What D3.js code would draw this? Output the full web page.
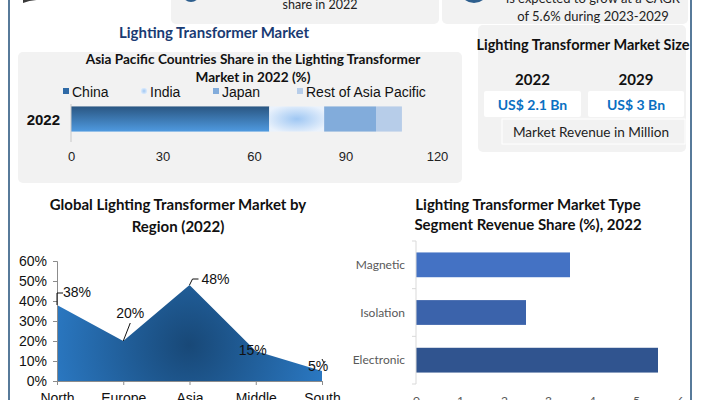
<!DOCTYPE html>
<html>
<head>
<meta charset="utf-8">
<script src="https://cdn.jsdelivr.net/npm/d3@7"></script>
<style>
  body { margin: 0; background: #fff; }
  svg { display: block; }
</style>
</head>
<body>
<div id="chart"></div>
<script>
// Asia Pacific stacked bar
const apCountries = ['China', 'India', 'Japan', 'Rest of Asia Pacific'];
const apShares = [65, 18, 17, 8.5];
const apYear = '2022';
const apTicks = [0, 30, 60, 90, 120];

// market size cards
const sizeYears = ['2022', '2029'];
const sizeValues = ['US$ 2.1 Bn', 'US$ 3 Bn'];

// region area chart
const regions = ['North America', 'Europe', 'Asia Pacific', 'Middle East and Africa', 'South America'];
const regionShares = [38, 20, 48, 15, 5];
const regionTicks = [0, 10, 20, 30, 40, 50, 60];

// type segment bars
const types = ['Magnetic', 'Isolation', 'Electronic'];
const typeShares = [3.5, 2.5, 5.5];
const typeTicks = [0, 1, 2, 3, 4, 5, 6];

const W = 701, H = 400;
const calibri = 'Lato, "Open Sans", sans-serif';
const arial = '"Liberation Sans", Arial, sans-serif';

const svg = d3.select('#chart').append('svg')
  .attr('width', W)
  .attr('height', H);

const defs = svg.append('defs');

let chinaGrad = defs.append('linearGradient')
  .attr('id', 'chinaGrad')
  .attr('x1', 0).attr('y1', 0).attr('x2', 0).attr('y2', 1);
chinaGrad.append('stop').attr('offset', '0%').attr('stop-color', '#2a5682');
chinaGrad.append('stop').attr('offset', '100%').attr('stop-color', '#4f9ae0');

let indiaGrad = defs.append('radialGradient')
  .attr('id', 'indiaGrad')
  .attr('cx', '50%').attr('cy', '50%').attr('r', '60%');
indiaGrad.append('stop').attr('offset', '0%').attr('stop-color', '#9fc7f3');
indiaGrad.append('stop').attr('offset', '100%').attr('stop-color', '#eaf2fc');

let areaGrad = defs.append('radialGradient')
  .attr('id', 'areaGrad')
  .attr('gradientUnits', 'userSpaceOnUse')
  .attr('cx', 189).attr('cy', 345).attr('r', 150);
areaGrad.append('stop').attr('offset', '0%').attr('stop-color', '#184877');
areaGrad.append('stop').attr('offset', '100%').attr('stop-color', '#2c7cc8');

// ---------- frame and header pieces ----------
svg.append('line')
  .attr('x1', 9).attr('x2', 9).attr('y1', 0).attr('y2', H)
  .attr('stroke', '#1f4e79').attr('stroke-width', 1.5);
svg.append('line')
  .attr('x1', 691).attr('x2', 691).attr('y1', 0).attr('y2', H)
  .attr('stroke', '#1f4e79').attr('stroke-width', 1.5);

// partial icon at top left
svg.append('path')
  .attr('d', 'M23,3 Q33,-1 47,0 L47,-6 L23,-6 Z')
  .attr('fill', '#3a3a3a');

svg.append('rect')
  .attr('x', 171).attr('y', -10).attr('width', 268).attr('height', 34)
  .attr('rx', 5).attr('fill', '#f2f2f2');
svg.append('rect')
  .attr('x', 442).attr('y', -10).attr('width', 246).attr('height', 34)
  .attr('rx', 5).attr('fill', '#f2f2f2');
svg.append('ellipse')
  .attr('cx', 191).attr('cy', -5).attr('rx', 8).attr('ry', 7)
  .attr('fill', '#2e5f8e');
svg.append('ellipse')
  .attr('cx', 474).attr('cy', -10).attr('rx', 14).attr('ry', 13)
  .attr('fill', '#2e5f8e');

svg.append('text')
  .attr('x', 320).attr('y', 9)
  .attr('text-anchor', 'middle')
  .style('font', `12.5px ${calibri}`).attr('fill', '#222')
  .text('share in 2022');
svg.append('text')
  .attr('x', 593).attr('y', 3)
  .attr('text-anchor', 'middle')
  .style('font', `13px ${calibri}`).attr('fill', '#222')
  .text('is expected to grow at a CAGR');
svg.append('text')
  .attr('x', 593).attr('y', 21)
  .attr('text-anchor', 'middle')
  .style('font', `13px ${calibri}`).attr('fill', '#222')
  .text('of 5.6% during 2023-2029');

svg.append('text')
  .attr('x', 214).attr('y', 38)
  .attr('text-anchor', 'middle')
  .style('font', `bold 15px ${calibri}`).attr('fill', '#1a3b73')
  .text('Lighting Transformer Market');

// ---------- Asia Pacific stacked bar ----------
svg.append('rect')
  .attr('x', 18).attr('y', 52).attr('width', 444).attr('height', 131)
  .attr('rx', 5).attr('fill', '#f2f2f2');

let apTitle = svg.append('text')
  .attr('text-anchor', 'middle')
  .style('font', `bold 13.6px ${calibri}`).attr('fill', '#111');
apTitle.append('tspan').attr('x', 253).attr('y', 64)
  .text('Asia Pacific Countries Share in the Lighting Transformer');
apTitle.append('tspan').attr('x', 253).attr('y', 82)
  .text('Market in 2022 (%)');

const apFills = ['url(#chinaGrad)', 'url(#indiaGrad)', '#82acdb', '#b7cde9'];
const legendX = [63, 141, 213, 297];

let legend = svg.append('g').selectAll('g')
  .data(apCountries)
  .enter()
  .append('g')
  .attr('transform', (d, i) => `translate(${legendX[i]}, 92)`);
legend.append('rect')
  .attr('x', 0).attr('y', -4).attr('width', 6).attr('height', 6)
  .attr('fill', (d, i) => i == 0 ? '#2f6aa6' : apFills[i]);
legend.append('text')
  .attr('x', 9).attr('y', 5)
  .style('font', `14px ${arial}`).attr('fill', '#111')
  .text(d => d);

let apX = d3.scaleLinear().domain([0, 120]).range([71, 437]);
let apY = d3.scaleBand().domain([apYear]).range([102, 136]).padding(0.15);

let stacked = [];
let acc = 0;
apShares.forEach((v, i) => {
  stacked.push({ name: apCountries[i], x0: acc, x1: acc + v, i: i });
  acc += v;
});

svg.append('g').selectAll('rect')
  .data(stacked)
  .enter()
  .append('rect')
  .attr('x', d => apX(d.x0))
  .attr('y', apY(apYear))
  .attr('width', d => apX(d.x1) - apX(d.x0))
  .attr('height', apY.bandwidth())
  .attr('fill', d => apFills[d.i]);

svg.append('line')
  .attr('x1', 71).attr('x2', 71).attr('y1', 104).attr('y2', 142)
  .attr('stroke', '#c8c8c8');

svg.append('text')
  .attr('x', 60).attr('y', 125)
  .attr('text-anchor', 'end')
  .style('font', `bold 15px ${arial}`).attr('fill', '#111')
  .text(apYear);

let apAxis = svg.append('g')
  .attr('transform', 'translate(0, 146)')
  .call(d3.axisBottom(apX).tickValues(apTicks).tickSize(0).tickPadding(6));
apAxis.select('.domain').remove();
apAxis.selectAll('text')
  .style('font', `13px ${arial}`).attr('fill', '#222');

// ---------- Market size cards ----------
svg.append('rect')
  .attr('x', 478).attr('y', 25).attr('width', 208).attr('height', 127)
  .attr('rx', 5).attr('fill', '#f2f2f2');

svg.append('text')
  .attr('x', 583).attr('y', 50)
  .attr('text-anchor', 'middle')
  .style('font', `bold 14.5px ${calibri}`).attr('fill', '#111')
  .text('Lighting Transformer Market Size');

const cardX = [484, 588];
const cardW = [97, 96];
sizeYears.forEach((yr, i) => {
  svg.append('text')
    .attr('x', cardX[i] + cardW[i] / 2).attr('y', 85)
    .attr('text-anchor', 'middle')
    .style('font', `bold 15px ${calibri}`).attr('fill', '#111')
    .text(yr);
  svg.append('rect')
    .attr('x', cardX[i]).attr('y', 91).attr('width', cardW[i]).attr('height', 26)
    .attr('rx', 2).attr('fill', '#fff');
  svg.append('text')
    .attr('x', cardX[i] + cardW[i] / 2).attr('y', 110)
    .attr('text-anchor', 'middle')
    .style('font', `bold 14px ${calibri}`).attr('fill', '#0a6fc2')
    .text(sizeValues[i]);
});

svg.append('rect')
  .attr('x', 502).attr('y', 119).attr('width', 183).attr('height', 25)
  .attr('fill', '#f2f2f2').attr('stroke', '#fff').attr('stroke-width', 1);
svg.append('text')
  .attr('x', 591).attr('y', 137)
  .attr('text-anchor', 'middle')
  .style('font', `13.6px ${calibri}`).attr('fill', '#222')
  .text('Market Revenue in Million');

// ---------- Region area chart ----------
let rTitle = svg.append('text')
  .attr('text-anchor', 'middle')
  .style('font', `bold 15px ${calibri}`).attr('fill', '#111');
rTitle.append('tspan').attr('x', 178).attr('y', 210).text('Global Lighting Transformer Market by');
rTitle.append('tspan').attr('x', 178).attr('y', 232).text('Region (2022)');

let rx = d3.scalePoint().domain(regions).range([57, 322]);
let ry = d3.scaleLinear().domain([0, 60]).range([381, 261]);

let area = d3.area()
  .x((d, i) => rx(regions[i]))
  .y0(ry(0))
  .y1(d => ry(d));

svg.append('path')
  .datum(regionShares)
  .attr('d', area)
  .attr('fill', 'url(#areaGrad)');

let ryAxis = svg.append('g')
  .attr('transform', 'translate(57, 0)')
  .call(d3.axisLeft(ry).tickValues(regionTicks).tickFormat(d => d + '%').tickSize(4).tickPadding(6));
ryAxis.select('.domain').attr('stroke', '#8c8c8c');
ryAxis.selectAll('line').attr('stroke', '#8c8c8c');
ryAxis.selectAll('text').style('font', `14px ${arial}`).attr('fill', '#111');

let rxAxis = svg.append('g')
  .attr('transform', 'translate(0, 381)')
  .call(d3.axisBottom(rx).tickSize(4).tickPadding(8).tickFormat(d => d.split(' ')[0]));
rxAxis.select('.domain').attr('stroke', '#8c8c8c');
rxAxis.selectAll('line').attr('stroke', '#8c8c8c');
rxAxis.selectAll('text').style('font', `14px ${arial}`).attr('fill', '#111');

// data labels with leader lines (dx, dy of label from point; leader path)
const rLabelPos = [
  { dx: 20, dy: -8, leader: [[0, 0], [0, -12], [6, -12]] },
  { dx: 7, dy: -23, leader: [[0, 0], [7, -18]] },
  { dx: 26, dy: -1, leader: [[0, 0], [3, -6], [9, -6]] },
  { dx: -3, dy: 4, leader: null },
  { dx: -4, dy: 0, leader: [[0, -12], [2, -8]] }
];

let rLabelData = regionShares.map((v, i) => ({ v: v, region: regions[i], pos: rLabelPos[i] }));

let rLabels = svg.append('g').selectAll('g')
  .data(rLabelData)
  .enter()
  .append('g')
  .attr('transform', d => `translate(${rx(d.region)}, ${ry(d.v)})`);
rLabels.filter(d => d.pos.leader != null)
  .append('path')
  .attr('d', d => d3.line()(d.pos.leader))
  .attr('fill', 'none')
  .attr('stroke', '#111')
  .attr('stroke-width', 1);
rLabels.append('text')
  .attr('x', d => d.pos.dx)
  .attr('y', d => d.pos.dy)
  .attr('text-anchor', 'middle')
  .style('font', `14px ${arial}`).attr('fill', '#111')
  .text(d => d.v + '%');

// ---------- Type segment bars ----------
let tTitle = svg.append('text')
  .attr('text-anchor', 'middle')
  .style('font', `bold 15px ${calibri}`).attr('fill', '#111');
tTitle.append('tspan').attr('x', 528).attr('y', 210).text('Lighting Transformer Market Type');
tTitle.append('tspan').attr('x', 528).attr('y', 230).text('Segment Revenue Share (%), 2022');

let tx = d3.scaleLinear().domain([0, 6]).range([416, 680]);
let ty = d3.scaleBand().domain(types).range([241, 384]).paddingInner(0.48).paddingOuter(0.24);
const typeColors = ['#4472c4', '#3b63ab', '#30548f'];

svg.append('g').selectAll('rect')
  .data(typeShares)
  .enter()
  .append('rect')
  .attr('x', tx(0))
  .attr('y', (d, i) => ty(types[i]))
  .attr('width', d => tx(d) - tx(0))
  .attr('height', ty.bandwidth())
  .attr('fill', (d, i) => typeColors[i]);

let tAxisG = svg.append('g');
tAxisG.append('line')
  .attr('x1', 416).attr('x2', 416).attr('y1', 241).attr('y2', 384)
  .attr('stroke', '#d9d9d9');
tAxisG.selectAll('.tick')
  .data(d3.range(types.length + 1))
  .enter()
  .append('line')
  .attr('x1', 412).attr('x2', 416)
  .attr('y1', i => 241 + i * ty.step())
  .attr('y2', i => 241 + i * ty.step())
  .attr('stroke', '#d9d9d9');

svg.append('g').selectAll('text')
  .data(types)
  .enter()
  .append('text')
  .attr('x', 405)
  .attr('y', d => ty(d) + ty.bandwidth() / 2 + 4)
  .attr('text-anchor', 'end')
  .style('font', `12px ${calibri}`).attr('fill', '#595959')
  .text(d => d);

let txAxis = svg.append('g')
  .attr('transform', 'translate(0, 392)')
  .call(d3.axisBottom(tx).tickValues(typeTicks).tickFormat(d3.format('d')).tickSize(0).tickPadding(4));
txAxis.select('.domain').remove();
txAxis.selectAll('text').style('font', `12px ${calibri}`).attr('fill', '#595959');
</script>
</body>
</html>
